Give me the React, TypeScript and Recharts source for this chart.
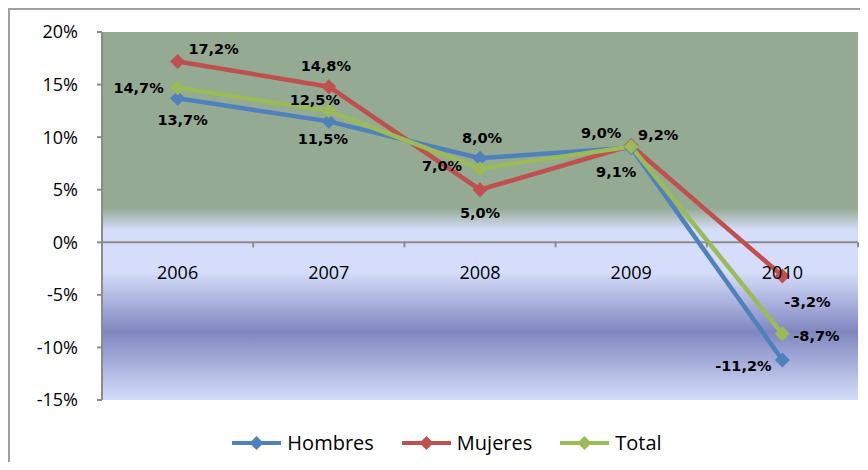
import React from 'react';
import { LineChart, Line, XAxis, YAxis, CartesianGrid, ReferenceLine, Legend, LabelList } from 'recharts';

// Variación anual por sexo
const years = ['2006', '2007', '2008', '2009', '2010'];
const hombres = [13.7, 11.5, 8.0, 9.0, -11.2];
const mujeres = [17.2, 14.8, 5.0, 9.2, -3.2];
const total = [14.7, 12.5, 7.0, 9.1, -8.7];
const yTicks = [-15, -10, -5, 0, 5, 10, 15, 20];

// where each data label sits relative to its point (dx, dy)
const hombresLabelPos = [[5, 22], [-6, 18], [2, -20], [-30, -15], [-39, 6]];
const mujeresLabelPos = [[36, -12], [-3, -21], [0, 23], [27, -11], [25, 26]];
const totalLabelPos = [[-39, 0], [-14, -11], [-38, -3], [-15, 25], [34, 2]];

const BLUE = '#4F81BD';
const RED = '#C0504D';
const GREEN = '#9BBB59';
const GRAY = '#8c8c8c';

const data = years.map((year, i) => ({ year, Hombres: hombres[i], Mujeres: mujeres[i], Total: total[i] }));

const W = 858;
const H = 452;
const M = { top: 22, right: 10, left: 0, bottom: 10 };
const Y_AXIS_W = 92;
const plotW = W - M.left - M.right - Y_AXIS_W;
const plotH = 368;
const band = plotW / years.length;
const zeroY = M.top + (plotH * 20) / 35;

const fmt = (v: number) => `${v.toFixed(1).replace('.', ',')}%`;

const YearTick = (props: any) => {
	const { x, payload, index } = props;
	return (
		<g>
			<line x1={x - band / 2} x2={x - band / 2} y1={zeroY} y2={zeroY + 5} stroke={GRAY} strokeWidth={2} />
			{index === years.length - 1 && (
				<line x1={x + band / 2} x2={x + band / 2} y1={zeroY} y2={zeroY + 5} stroke={GRAY} strokeWidth={2} />
			)}
			<text x={x} y={zeroY + 30} textAnchor="middle" dominantBaseline="central" fontFamily="Open Sans" fontSize={18} fill="#000">
				{payload.value}
			</text>
		</g>
	);
};

const makeLabel = (pos: number[][]) => (props: any) => {
	const { x, y, value, index } = props;
	const [dx, dy] = pos[index];
	return (
		<text x={x + dx} y={y + dy} textAnchor="middle" dominantBaseline="central" fontFamily="DejaVu Sans" fontWeight="bold" fontSize={14.5} fill="#000">
			{fmt(value)}
		</text>
	);
};

const makeDot = (color: string) => (props: any) => {
	const { cx, cy, index } = props;
	const r = 7.5;
	return <polygon key={`d-${index}`} points={`${cx},${cy - r} ${cx + r},${cy} ${cx},${cy + r} ${cx - r},${cy}`} fill={color} />;
};

const legendItems = [
	{ name: 'Hombres', color: BLUE },
	{ name: 'Mujeres', color: RED },
	{ name: 'Total', color: GREEN },
];

const LegendContent = () => (
	<div style={{ height: 32, display: 'flex', justifyContent: 'center', alignItems: 'flex-end', paddingLeft: 26 }}>
		{legendItems.map((item) => (
			<div key={item.name} style={{ display: 'flex', alignItems: 'center', margin: '0 14px -2px', height: 22 }}>
				<svg width={49} height={16}>
					<line x1={0} x2={49} y1={8} y2={8} stroke={item.color} strokeWidth={4} />
					<polygon points="24.5,1 31.5,8 24.5,15 17.5,8" fill={item.color} />
				</svg>
				<span style={{ fontFamily: 'Open Sans', fontSize: 20, color: '#000', marginLeft: 6, lineHeight: '22px' }}>{item.name}</span>
			</div>
		))}
	</div>
);

export default function App() {
	return (
		<div style={{ width: W, height: H, borderLeft: '2px solid #a0a0a0', borderTop: '2px solid #a0a0a0', background: '#fff' }}>
			<LineChart width={W} height={H} data={data} margin={M}>
				<defs>
					<linearGradient id="plotBg" x1="0" y1="0" x2="0" y2="1">
						<stop offset="0" stopColor="#94AA92" />
						<stop offset="0.478" stopColor="#94AA92" />
						<stop offset="0.538" stopColor="#D5DDFA" />
						<stop offset="0.652" stopColor="#D5DDFA" />
						<stop offset="0.815" stopColor="#8087C0" />
						<stop offset="1" stopColor="#D5DDFA" />
					</linearGradient>
				</defs>
				<CartesianGrid horizontal={false} vertical={false} fill="url(#plotBg)" fillOpacity={1} stroke="none" />
				<XAxis
					dataKey="year"
					padding={{ left: band / 2, right: band / 2 }}
					axisLine={false}
					tickLine={false}
					tick={<YearTick />}
					height={20}
					interval={0}
				/>
				<YAxis
					width={Y_AXIS_W}
					domain={[-15, 20]}
					ticks={yTicks}
					interval={0}
					tickFormatter={(v: number) => `${v}%`}
					axisLine={{ stroke: GRAY, strokeWidth: 2 }}
					tickLine={{ stroke: GRAY, strokeWidth: 2 }}
					tickSize={5}
					tickMargin={19}
					tick={{ fill: '#000', fontSize: 18, fontFamily: 'Open Sans' }}
				/>
				<ReferenceLine y={0} stroke={GRAY} strokeWidth={2} />
				<Legend verticalAlign="bottom" height={32} content={<LegendContent />} />
				<Line dataKey="Hombres" stroke={BLUE} strokeWidth={4.5} dot={makeDot(BLUE)} activeDot={false} isAnimationActive={false}>
					<LabelList dataKey="Hombres" content={makeLabel(hombresLabelPos)} />
				</Line>
				<Line dataKey="Mujeres" stroke={RED} strokeWidth={4.5} dot={makeDot(RED)} activeDot={false} isAnimationActive={false}>
					<LabelList dataKey="Mujeres" content={makeLabel(mujeresLabelPos)} />
				</Line>
				<Line dataKey="Total" stroke={GREEN} strokeWidth={4.5} dot={makeDot(GREEN)} activeDot={false} isAnimationActive={false}>
					<LabelList dataKey="Total" content={makeLabel(totalLabelPos)} />
				</Line>
			</LineChart>
		</div>
	);
}
